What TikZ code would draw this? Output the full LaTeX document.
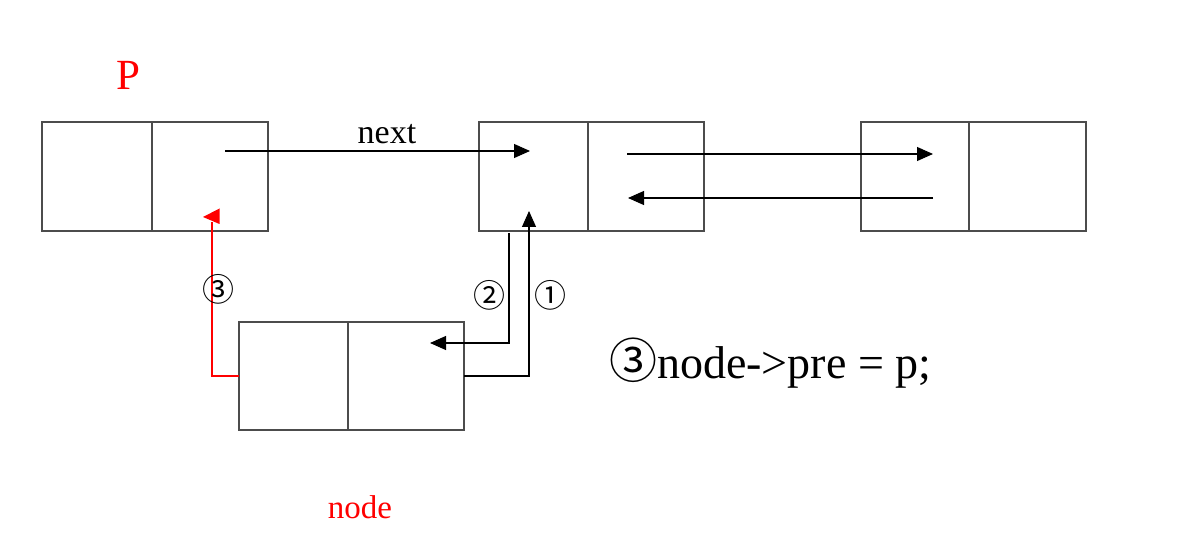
\documentclass[tikz,border=0pt]{standalone}
\usepackage{fontspec}
\setmainfont{Liberation Serif}
\newfontfamily\circfont{Noto Sans CJK SC}
\usetikzlibrary{arrows.meta}
\begin{document}
\begin{tikzpicture}[x=1pt,y=-1pt,
  cell/.style={draw=black!70,line width=1.2pt,inner sep=0pt,outer sep=0pt,minimum height=109pt},
  arr/.style={draw=black,line width=1.1pt,-{Triangle[length=16pt,width=14pt]}},
  lbl/.style={inner sep=0pt,font=\circfont\fontsize{32}{32}\selectfont}]
\useasboundingbox (0,0) rectangle (1204,534);
% boxes
\node[cell,minimum width=110pt] (b1l) at (97,176.5) {};
\node[cell,minimum width=116pt] (b1r) at (210,176.5) {};
\node[cell,minimum width=109pt] (b2l) at (533.5,176.5) {};
\node[cell,minimum width=116pt] (b2r) at (646,176.5) {};
\node[cell,minimum width=108pt] (b3l) at (915,176.5) {};
\node[cell,minimum width=117pt] (b3r) at (1027.5,176.5) {};
\node[cell,minimum width=109pt,minimum height=108pt] (n1l) at (293.5,376) {};
\node[cell,minimum width=116pt,minimum height=108pt] (n1r) at (406,376) {};
% free ends
\coordinate (nextS) at (225,151);
\coordinate (nextE) at (530,151);
\coordinate (fwS) at (627,154);
\coordinate (fwE) at (933,154);
\coordinate (bkS) at (933,198);
\coordinate (bkE) at (628,198);
\coordinate (oneE) at (529,211);
\coordinate (twoS) at (509,233);
\coordinate (twoE) at (430,343);
\coordinate (thrE) at (212,222);
% connectors
\draw[arr] (nextS) -- (nextE);
\draw[arr] (fwS) -- (fwE);
\draw[arr] (bkS) -- (bkE);
\draw[arr] (n1r.east) -| (oneE);
\draw[arr] (twoS) |- (twoE);
\draw[red,line width=1.1pt] (n1l.west) -| (thrE);
\fill[red] (219.5,208.5) -- (219.5,224) -- (203,217) -- cycle;
% labels
\node[text=red,font=\fontsize{43}{43}\selectfont,anchor=base] (plbl) at (128,90) {P};
\node[font=\fontsize{34}{34}\selectfont,anchor=base] (nextlbl) at (387,144) {next};
\node[text=red,font=\fontsize{33}{33}\selectfont,anchor=base] (nodelbl) at (360,518) {node};
\node[lbl] (c3) at (218,289) {③};
\node[lbl] (c2) at (489,295) {②};
\node[lbl] (c1) at (550,295) {①};
\node[anchor=base west,inner sep=0pt] (code) at (609,378) {{\circfont\fontsize{48}{48}\selectfont ③}{\fontsize{46}{46}\selectfont node->pre = p;}};
\end{tikzpicture}
\end{document}
